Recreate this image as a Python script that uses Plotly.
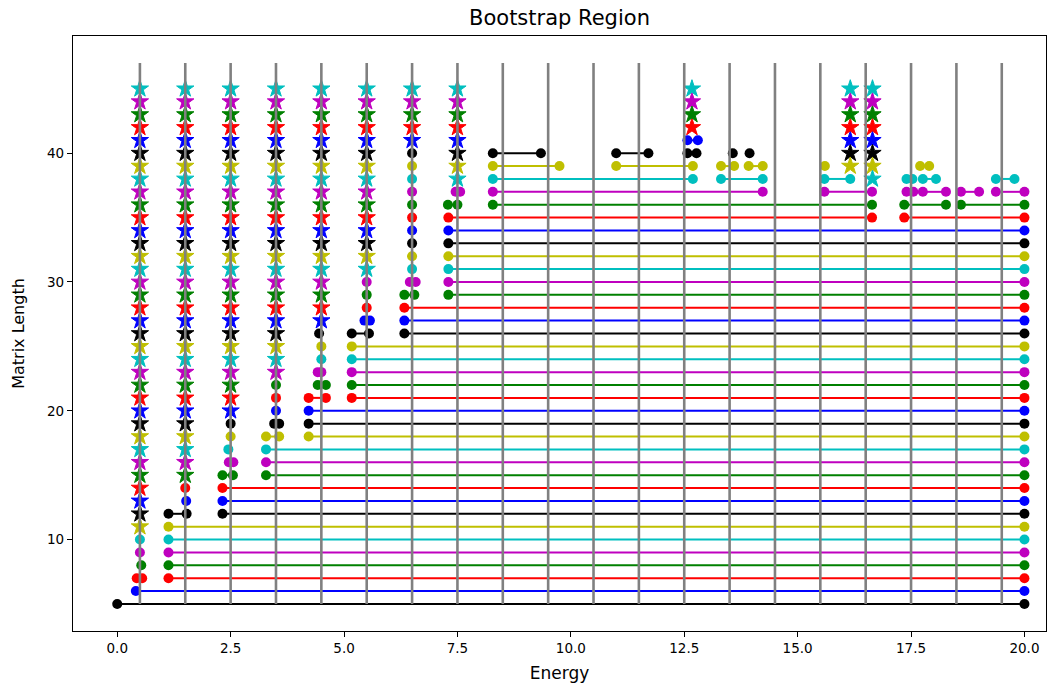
import plotly.graph_objects as go

# Allowed energy windows per matrix length: closed intervals drawn as
# dot-capped segments (parallel lists: length, start, end)
seg_length = [5, 6, 7, 7, 8, 9, 10, 11, 12, 12,
              13, 14, 15, 15, 16, 16, 17, 18, 18, 19,
              19, 20, 21, 21, 22, 22, 23, 23, 24, 25,
              26, 26, 27, 27, 28, 29, 29, 30, 30, 31,
              32, 33, 34, 35, 35, 36, 36, 36, 36, 37,
              37, 37, 37, 37, 37, 37, 38, 38, 38, 38,
              38, 38, 39, 39, 39, 39, 39, 40, 40, 40,
              41]
seg_start = [0.00, 0.41, 0.43, 1.13, 1.13, 1.13, 1.13, 1.13, 1.13, 2.32,
             2.32, 2.32, 2.32, 3.28, 2.46, 3.28, 3.28, 3.28, 4.22, 3.46,
             4.22, 4.22, 4.22, 5.17, 4.42, 5.17, 4.42, 5.17, 5.17, 5.17,
             5.17, 6.33, 5.45, 6.33, 6.33, 6.33, 7.30, 6.45, 7.30, 7.30,
             7.30, 7.30, 7.30, 7.30, 17.35, 7.29, 8.28, 17.35, 18.60, 7.46,
             8.28, 15.59, 17.40, 17.76, 18.60, 19.37, 8.28, 13.31, 15.59, 17.40,
             17.76, 19.37, 8.28, 11.00, 13.31, 13.92, 17.70, 8.28, 11.00, 12.57,
             12.57]
seg_end = [20.0, 20.0, 0.55, 20.0, 20.0, 20.0, 20.0, 20.0, 1.53, 20.0,
           20.0, 20.0, 2.55, 20.0, 2.56, 20.0, 20.0, 3.57, 20.0, 3.57,
           20.0, 20.0, 4.60, 20.0, 4.60, 20.0, 4.50, 20.0, 20.0, 20.0,
           5.55, 20.0, 5.57, 20.0, 20.0, 6.55, 20.0, 6.58, 20.0, 20.0,
           20.0, 20.0, 20.0, 16.64, 20.0, 7.50, 16.64, 18.27, 20.0, 7.56,
           14.23, 16.64, 17.55, 18.27, 19.00, 20.0, 12.69, 14.23, 16.16, 17.53,
           18.05, 19.78, 9.75, 12.69, 13.60, 14.23, 17.90, 9.34, 11.71, 12.77,
           12.80]

# Isolated single-energy solutions (circle markers)
dot_length = [8, 9, 10, 13, 14, 17, 18, 19, 20, 21,
              22, 24, 25, 26, 28, 29, 30, 31, 32, 33,
              34, 35, 36, 37, 38, 39, 40, 39, 40, 40]
dot_energy = [0.53, 0.50, 0.50, 1.52, 1.50, 2.45, 2.50, 2.50, 3.50, 3.50,
              3.50, 4.50, 4.50, 4.45, 5.50, 5.50, 5.50, 6.50, 6.50, 6.50,
              6.50, 6.50, 6.50, 6.50, 6.50, 6.50, 6.50, 15.60, 13.57, 13.94]

# Star columns: energy and the range of matrix lengths marked with a star
star_energy = [0.50, 1.50, 2.50, 3.50, 4.50, 5.50, 6.50, 7.50, 12.67, 16.16, 16.65]
star_lowest = [11, 15, 20, 23, 27, 31, 41, 38, 42, 39, 38]
star_highest = [45, 45, 45, 45, 45, 45, 45, 45, 45, 45, 45]

# Reference energies (vertical guides) and their vertical extent
guide_energy = [0.5, 1.5, 2.5, 3.5, 4.5, 5.5, 6.5, 7.5, 8.5, 9.5,
                10.5, 11.5, 12.5, 13.5, 14.5, 15.5, 16.5, 17.5, 18.5, 19.5]
guide_bottom = 5
guide_top = 47

x_ticks = [0.0, 2.5, 5.0, 7.5, 10.0, 12.5, 15.0, 17.5, 20.0]
y_ticks = [10, 20, 30, 40]

# matplotlib single-letter colours, cycled k b r g m c y by matrix length
palette = ["#000000", "#0000ff", "#ff0000", "#008000", "#bf00bf", "#00bfbf", "#bfbf00"]
first_length = 5


def colour_of(length):
    return palette[(length - first_length) % len(palette)]


fig = go.Figure()

# segments, grouped by colour
for col in palette:
    xs, ys = [], []
    for L, a, b in zip(seg_length, seg_start, seg_end):
        if colour_of(L) == col:
            xs += [a, b, None]
            ys += [L, L, None]
    fig.add_trace(go.Scatter(x=xs, y=ys, mode="lines+markers",
                             line=dict(color=col, width=2),
                             marker=dict(color=col, size=10, symbol="circle"),
                             hoverinfo="skip", showlegend=False))

# isolated dots
for col in palette:
    xs = [e for L, e in zip(dot_length, dot_energy) if colour_of(L) == col]
    ys = [L for L in dot_length if colour_of(L) == col]
    fig.add_trace(go.Scatter(x=xs, y=ys, mode="markers",
                             marker=dict(color=col, size=10, symbol="circle"),
                             hoverinfo="skip", showlegend=False))

# stars
for col in palette:
    xs, ys = [], []
    for e, lo, hi in zip(star_energy, star_lowest, star_highest):
        for L in range(lo, hi + 1):
            if colour_of(L) == col:
                xs.append(e)
                ys.append(L)
    fig.add_trace(go.Scatter(x=xs, y=ys, mode="markers",
                             marker=dict(color=col, size=13, symbol="star",
                                         line=dict(width=1, color=col)),
                             hoverinfo="skip", showlegend=False))

# vertical grey guides on top
gx, gy = [], []
for e in guide_energy:
    gx += [e, e, None]
    gy += [guide_bottom, guide_top, None]
fig.add_trace(go.Scatter(x=gx, y=gy, mode="lines",
                         line=dict(color="#808080", width=2.6),
                         hoverinfo="skip", showlegend=False))

axis_common = dict(showgrid=False, zeroline=False, showline=True, mirror=True,
                   linecolor="black", linewidth=1.2, ticks="outside", ticklen=5,
                   tickwidth=1.2, tickcolor="black",
                   tickfont=dict(family="DejaVu Sans", size=13.5, color="black"))

fig.update_layout(
    width=1058, height=692,
    margin=dict(l=73, r=12, t=36, b=61),
    paper_bgcolor="white", plot_bgcolor="white",
    font=dict(family="DejaVu Sans", size=14, color="black"),
    title=dict(text="Bootstrap Region", x=0.5, xref="paper", xanchor="center",
               y=1 - 18 / 692, yref="container", yanchor="middle",
               font=dict(family="DejaVu Sans", size=21, color="black")),
    xaxis=dict(range=[-0.975, 20.475], tickvals=x_ticks,
               ticktext=[f"{v:.1f}" for v in x_ticks],
               title=dict(text="Energy", standoff=11,
                          font=dict(family="DejaVu Sans", size=17)),
               **axis_common),
    yaxis=dict(range=[2.9, 49.1], tickvals=y_ticks,
               ticktext=[str(v) for v in y_ticks],
               title=dict(text="Matrix Length", standoff=18,
                          font=dict(family="DejaVu Sans", size=16)),
               **axis_common),
)

fig.write_html("out.html")
